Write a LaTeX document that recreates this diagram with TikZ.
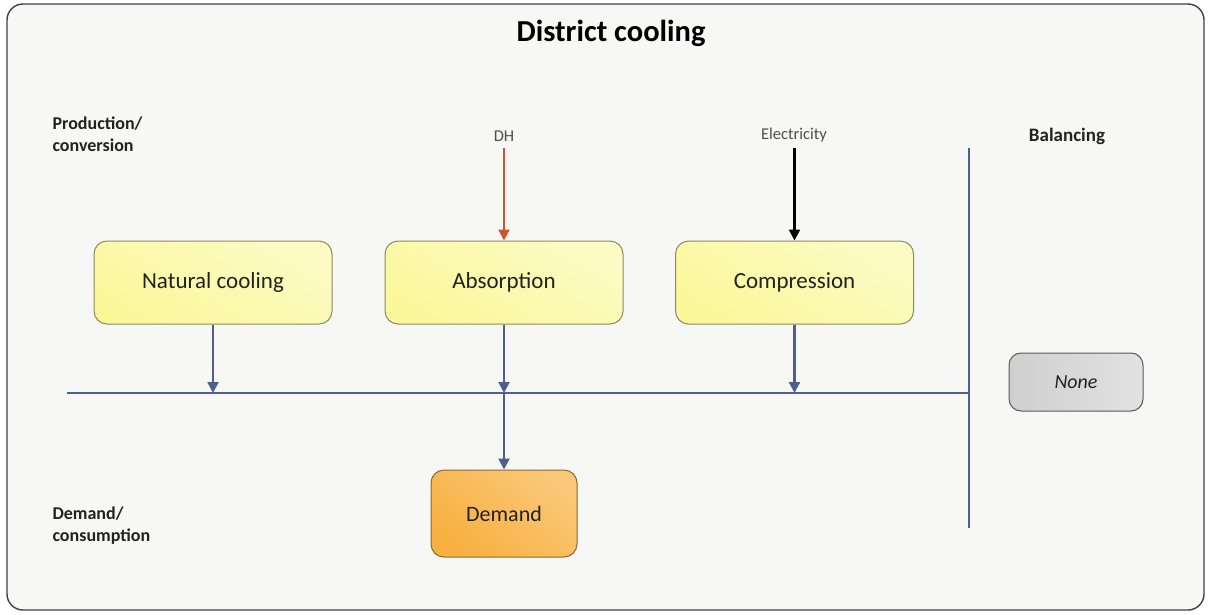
\documentclass[tikz,border=0pt]{standalone}
\usepackage{fontspec}
\setmainfont{Carlito}
\usetikzlibrary{arrows.meta}
\definecolor{bgc}{HTML}{F7F7F6}
\definecolor{linec}{HTML}{4D5F8C}
\definecolor{boxy}{HTML}{FAF79A}
\definecolor{boxyl}{HTML}{FCFBC4}
\definecolor{boxyb}{HTML}{8C8A5E}
\definecolor{dem}{HTML}{F8B040}
\definecolor{deml}{HTML}{FAC878}
\definecolor{demb}{HTML}{8A6A30}
\definecolor{nonec}{HTML}{CFCFCF}
\definecolor{nonel}{HTML}{E2E2E2}
\definecolor{redc}{HTML}{D2522E}
\definecolor{txt}{HTML}{222222}
\tikzset{
  x=1pt, y=-1pt,
  prodbox/.style={draw=boxyb, line width=1pt, rounded corners=13pt, top color=boxy, bottom color=boxyl, shading angle=150,
    minimum width=238pt, minimum height=83pt, font=\fontsize{23}{27}\selectfont, text=txt},
  demandbox/.style={draw=demb, line width=1pt, rounded corners=13pt, left color=dem, right color=deml, shading angle=140,
    minimum width=146pt, minimum height=87pt, font=\fontsize{22}{26}\selectfont, text=txt},
  nonebox/.style={draw=gray!70!black, line width=1pt, rounded corners=12pt, left color=nonec, right color=nonel,
    minimum width=134pt, minimum height=58pt, font=\fontsize{20}{24}\selectfont\itshape, text=txt},
  sidelabel/.style={font=\fontsize{18}{22}\selectfont\bfseries, align=left, anchor=west, text=txt},
  toplabel/.style={font=\fontsize{16.5}{19}\selectfont, text=txt!80},
  busline/.style={draw=linec, line width=2.6pt},
  flow/.style={draw=linec, line width=2.2pt, -{Triangle[length=11pt,width=11pt]}},
}
\begin{document}
\begin{tikzpicture}
\useasboundingbox (0,0) rectangle (1211,614);
\draw[fill=bgc, draw=black!75, line width=1.4pt, rounded corners=16pt] (7,4) rectangle (1204,610);
\node[font=\fontsize{30.5}{35}\selectfont\bfseries, text=black] (title) at (611,33) {District cooling};
\node[sidelabel] (prod) at (49,134) {Production/\\conversion};
\node[sidelabel] (demlab) at (49,526) {Demand/\\consumption};
\node[font=\fontsize{19}{23}\selectfont\bfseries, text=txt] (bal) at (1067,136) {Balancing};

\node[prodbox] (nat) at (213,282.5) {Natural cooling};
\node[prodbox] (abs) at (504,282.5) {Absorption};
\node[prodbox] (comp) at (794.5,282.5) {Compression};
\node[demandbox] (demand) at (504,513.5) {Demand};
\node[nonebox] (none) at (1076,382) {None};

\node[toplabel, inner sep=0pt] (dh) at (504,136) {DH};
\node[toplabel, inner sep=0pt] (el) at (794,135) {Electricity};

\coordinate (busL) at (67,393);
\coordinate (busR) at (969,393);
\coordinate (vtop) at (969,148);
\coordinate (vbot) at (969,528);
\coordinate (n1) at (213,393);
\coordinate (n2) at (504,393);
\coordinate (n3) at (794.5,393);
\coordinate (dhs) at (504,148);
\coordinate (els) at (794.5,148);

\draw[busline] (busL) -- (busR);
\draw[busline] (vtop) -- (vbot);

\draw[flow] (nat.south) -- (n1);
\draw[flow] (abs.south) -- (n2);
\draw[flow] (comp.south) -- (n3);
\draw[flow] (n2) -- (demand.north);

\draw[draw=redc, line width=2.2pt, -{Triangle[length=11pt,width=11pt]}] (dhs) -- (abs.north);
\draw[draw=black, line width=2.2pt, -{Triangle[length=11pt,width=11pt]}] (els) -- (comp.north);
\end{tikzpicture}
\end{document}
